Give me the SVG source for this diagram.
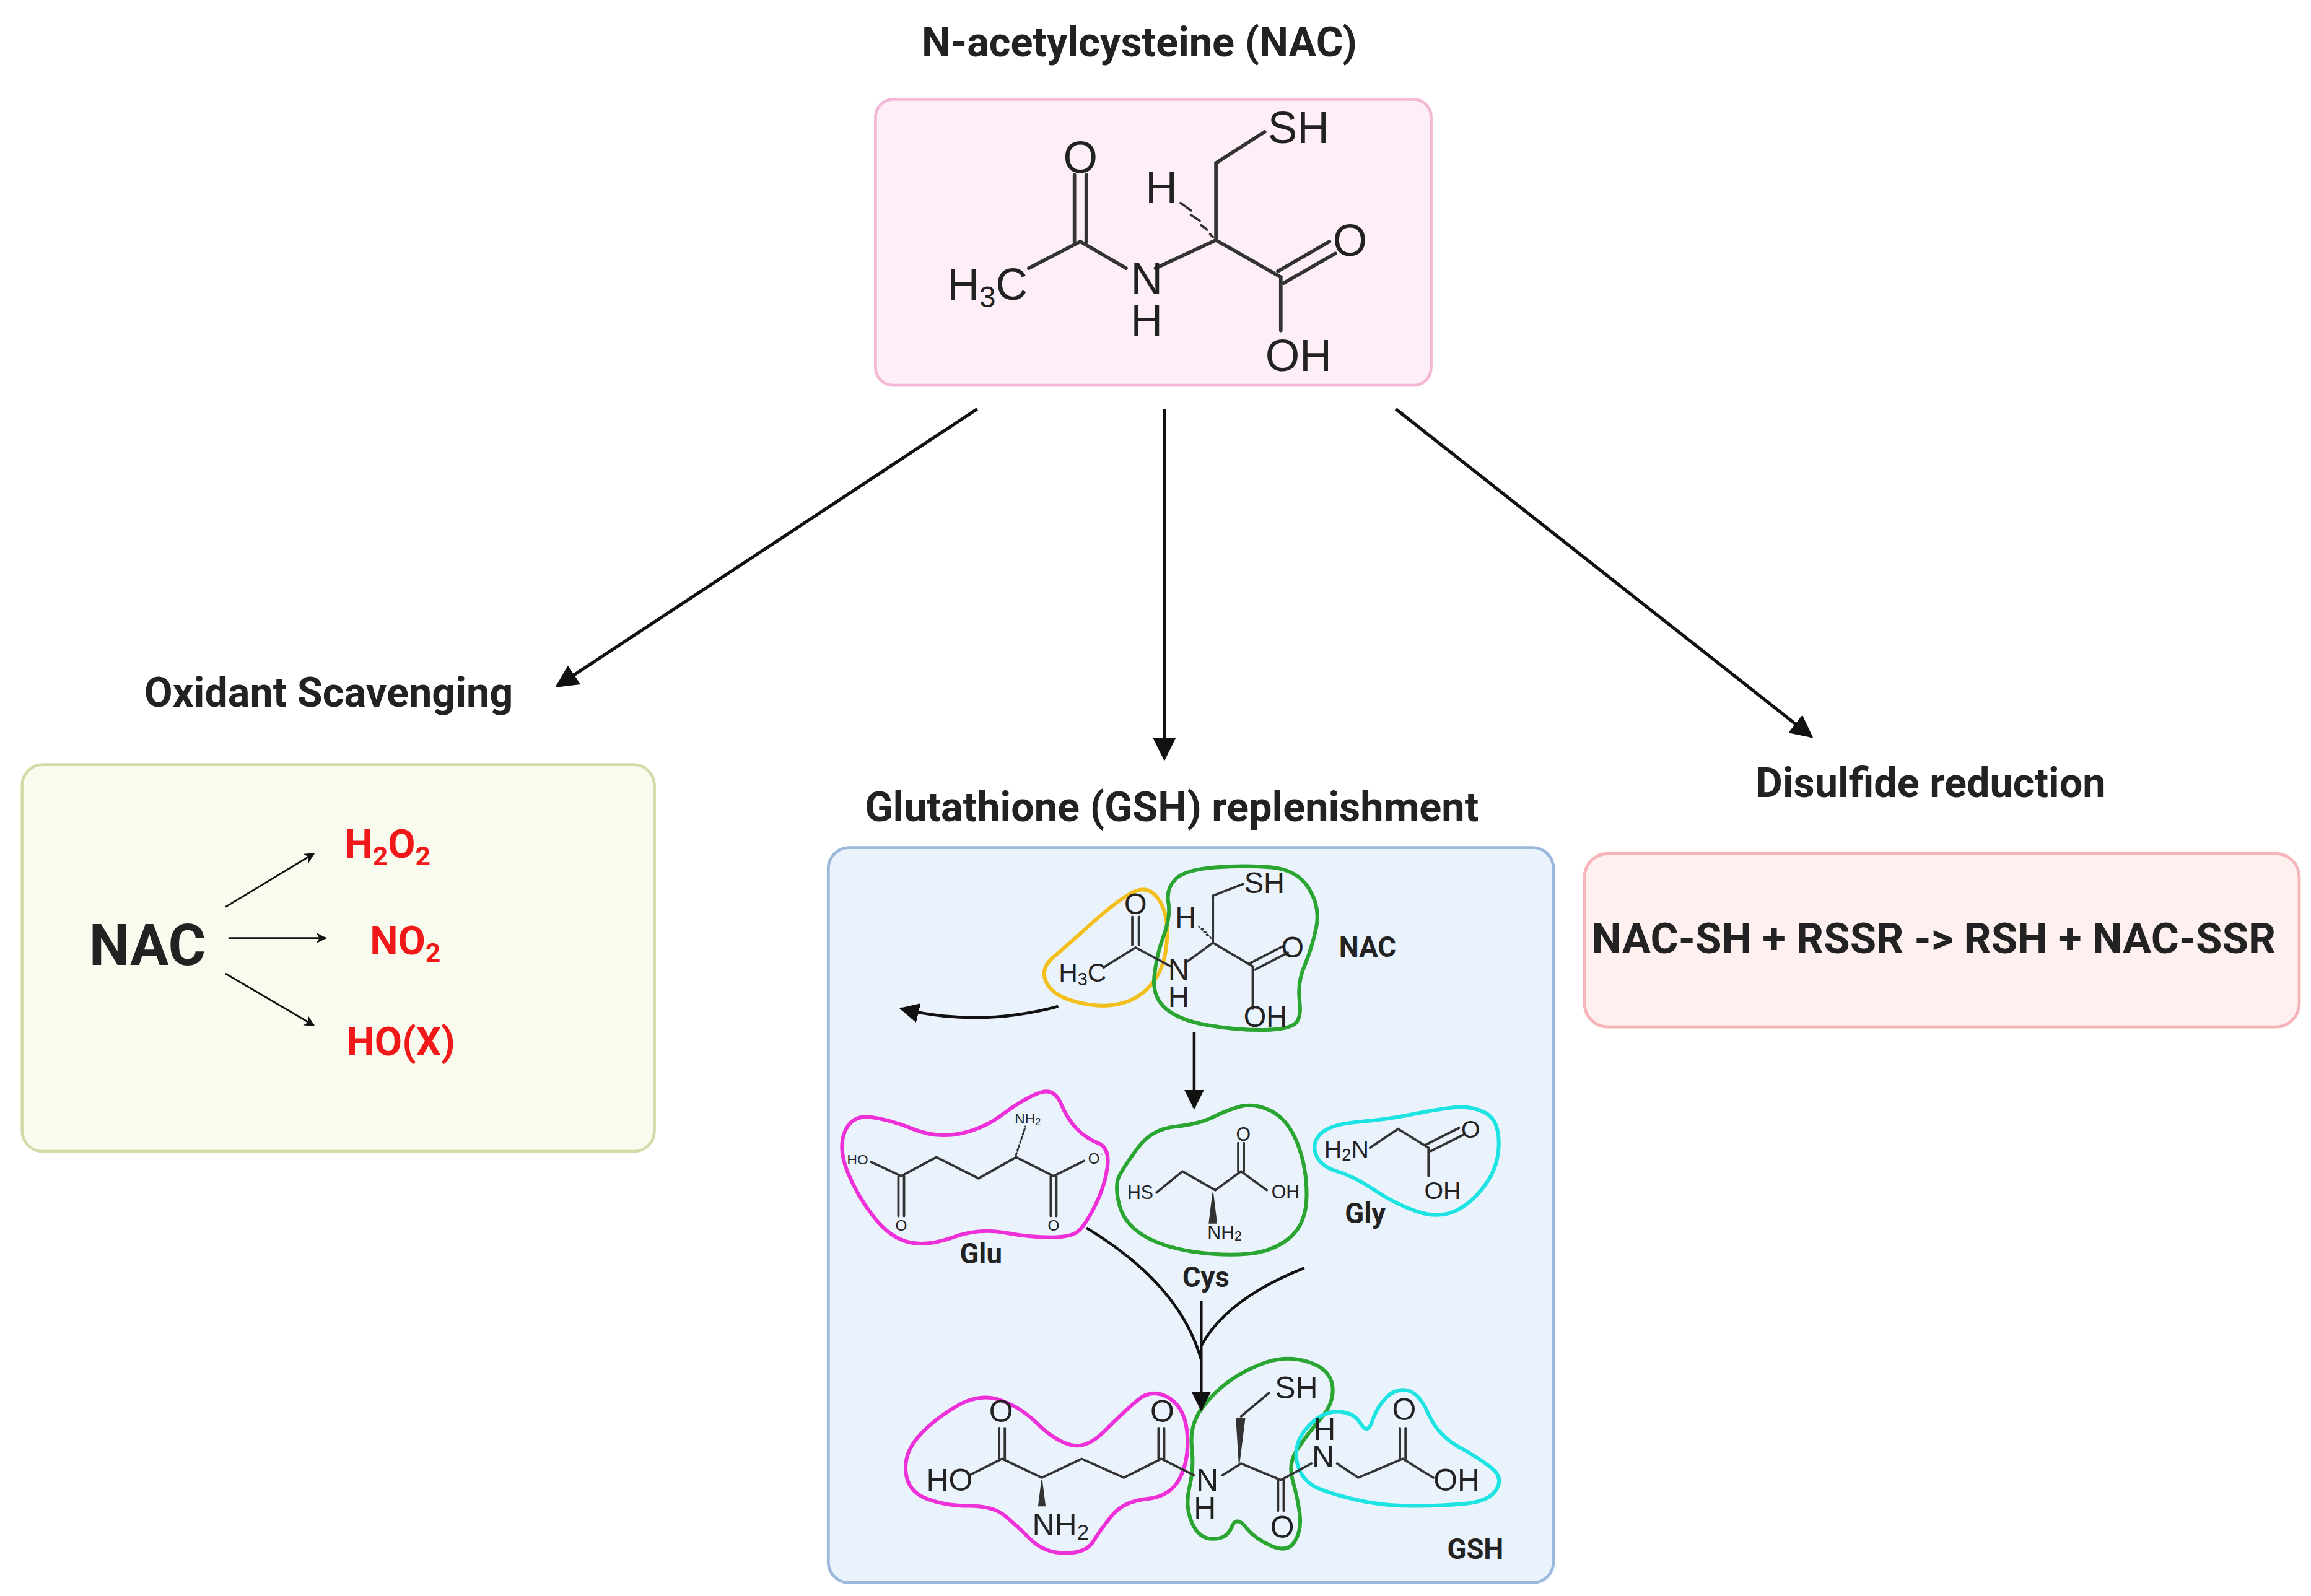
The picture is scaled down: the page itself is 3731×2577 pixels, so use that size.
<svg xmlns="http://www.w3.org/2000/svg" width="3731" height="2577" viewBox="0 0 3731 2577">
<defs>
<style>
.t{font-family:Roboto,"Liberation Sans",sans-serif;font-weight:bold;fill:#222}
.c{font-family:"Liberation Sans",Arial,sans-serif;fill:#222}
.r{font-family:Roboto,"Liberation Sans",sans-serif;font-weight:bold;fill:#f01818}
.b{stroke:#333;fill:none;stroke-linecap:round}
.a{stroke:#111;fill:none}
.lp{fill:none;stroke-width:8}
</style>
<marker id="ah" viewBox="0 0 10 10" refX="9" refY="5" markerWidth="7" markerHeight="7" orient="auto" markerUnits="strokeWidth"><path d="M0,0 L10,5 L0,10 z" fill="#111"/></marker>
<marker id="ah2" viewBox="0 0 10 10" refX="9" refY="5" markerWidth="6" markerHeight="6" orient="auto" markerUnits="strokeWidth"><path d="M0,0 L10,5 L0,10 L3,5 z" fill="#111"/></marker>
</defs>
<rect width="3731" height="2577" fill="#fff"/>
<g transform="scale(2.3795 2.3928)">
<g id="nac-top">
<text class="t" x="773" y="38" font-size="28" text-anchor="middle">N-acetylcysteine (NAC)</text>
<rect x="594" y="67" width="377" height="193" rx="12" fill="#fdeef8" stroke="#f4b8d6" stroke-width="2"/>
<g class="b" stroke-width="2.4">
<path d="M698,181 L733,163 L764,181"/>
<path d="M729,163 L729,118 M737,163 L737,118"/>
<path d="M784,181 L825,162 L825,110 L858,89"/>
<path d="M825,162 L869,187 L869,223"/>
<path d="M867,183 L902,163 M871,191 L906,171"/>
<path d="M823,160 L821,158 M819,155 L815,152 M814,149 L808,145 M808,142 L801,137" stroke-width="1.6"/>
</g>
<g class="c" font-size="30" dominant-baseline="central" text-anchor="middle">
<text x="733" y="106">O</text>
<text x="670" y="192">H<tspan font-size="20" dy="8">3</tspan><tspan dy="-8">C</tspan></text>
<text x="778" y="188">N</text>
<text x="778" y="216">H</text>
<text x="788" y="126">H</text>
<text x="881" y="86">SH</text>
<text x="916" y="162">O</text>
<text x="881" y="240">OH</text>
</g>
</g>
<g id="connectors">
<path class="a" stroke-width="2.2" marker-end="url(#ah)" d="M663,276 L378,463"/>
<path class="a" stroke-width="2.2" marker-end="url(#ah)" d="M790,276 L790,512"/>
<path class="a" stroke-width="2.2" marker-end="url(#ah)" d="M947,276 L1229,497"/>
</g>
<g id="oxidant">
<text class="t" x="223" y="477" font-size="28" text-anchor="middle">Oxidant Scavenging</text>
<rect x="15" y="516" width="429" height="261" rx="14" fill="#f8fbee" stroke="#d3dca8" stroke-width="2"/>
<text class="t" x="100" y="651" font-size="39" text-anchor="middle" fill="#111">NAC</text>
<g class="a" stroke-width="1.2" stroke="#444">
<path marker-end="url(#ah2)" d="M153,612 L213,576"/>
<path marker-end="url(#ah2)" d="M155,633 L221,633"/>
<path marker-end="url(#ah2)" d="M153,657 L213,692"/>
</g>
<text class="r" x="263" y="579" font-size="27" text-anchor="middle">H<tspan font-size="18" dy="5">2</tspan><tspan dy="-5">O</tspan><tspan font-size="18" dy="5">2</tspan></text>
<text class="r" x="275" y="644" font-size="27" text-anchor="middle">NO<tspan font-size="18" dy="5">2</tspan></text>
<text class="r" x="272" y="712" font-size="27" text-anchor="middle">HO(X)</text>
</g>
<g id="gsh">
<text class="t" x="795" y="554" font-size="28" text-anchor="middle">Glutathione (GSH) replenishment</text>
<rect x="562" y="572" width="492" height="496" rx="14" fill="#eaf3fc" stroke="#9cb8dc" stroke-width="2"/>
<g transform="translate(559 571) scale(0.318)">
<path class="lp" stroke="#f2bf1c" d="M490,235 Q520,210 570,165 Q620,120 655,100 Q690,80 712,110 Q735,140 732,195 Q730,250 705,285 Q680,320 640,332 Q600,345 545,332 Q490,320 475,290 Q460,260 490,235Z"/>
<path class="lp" stroke="#2aa532" d="M735,120 Q730,90 750,70 Q770,50 835,45 Q900,40 955,45 Q1010,50 1035,90 Q1060,130 1050,175 Q1040,220 1025,255 Q1010,290 1015,330 Q1020,370 1000,380 Q980,390 930,390 Q880,390 820,380 Q760,370 730,345 Q700,320 705,275 Q710,230 725,190 Q740,150 735,120Z"/>
<path class="lp" stroke="#2aa532" d="M630,700 Q640,680 670,640 Q700,600 750,595 Q800,590 830,575 Q860,560 890,552 Q920,545 955,562 Q990,580 1010,630 Q1030,680 1030,740 Q1030,800 995,830 Q960,860 905,865 Q850,870 785,860 Q720,850 680,825 Q640,800 630,760 Q620,720 630,700Z"/>
<path class="lp" stroke="#1de3e3" d="M1060,610 Q1080,590 1140,585 Q1200,580 1250,570 Q1300,560 1340,555 Q1380,550 1410,565 Q1440,580 1440,630 Q1440,680 1410,720 Q1380,760 1345,775 Q1310,790 1265,775 Q1220,760 1175,730 Q1130,700 1095,690 Q1060,680 1050,655 Q1040,630 1060,610Z"/>
<path class="lp" stroke="#ee30d8" d="M45,605 Q60,570 100,575 Q140,580 190,600 Q240,620 290,610 Q340,600 380,570 Q420,540 455,525 Q490,510 505,545 Q520,580 540,600 Q560,620 585,630 Q610,640 605,680 Q600,720 580,760 Q560,800 545,815 Q530,830 485,830 Q440,830 385,820 Q330,810 275,830 Q220,850 180,840 Q140,830 105,785 Q70,740 50,690 Q30,640 45,605Z"/>
<path class="lp" stroke="#ee30d8" d="M200,1255 Q230,1220 280,1190 Q330,1160 375,1175 Q420,1190 455,1225 Q490,1260 525,1270 Q560,1280 600,1240 Q640,1200 670,1175 Q700,1150 735,1170 Q770,1190 775,1245 Q780,1300 760,1340 Q740,1380 690,1385 Q640,1390 615,1420 Q590,1450 575,1475 Q560,1500 515,1500 Q470,1500 440,1470 Q410,1440 385,1420 Q360,1400 310,1400 Q260,1400 220,1385 Q180,1370 175,1330 Q170,1290 200,1255Z"/>
<path class="lp" stroke="#2aa532" d="M785,1275 Q780,1230 805,1195 Q830,1160 865,1135 Q900,1110 945,1095 Q990,1080 1035,1095 Q1080,1110 1085,1145 Q1090,1180 1060,1215 Q1030,1250 1010,1280 Q990,1310 1000,1345 Q1010,1380 1015,1415 Q1020,1450 1005,1475 Q990,1500 955,1485 Q920,1470 900,1445 Q880,1420 870,1445 Q860,1470 830,1470 Q800,1470 785,1435 Q770,1400 780,1360 Q790,1320 785,1275Z"/>
<path class="lp" stroke="#1de3e3" d="M1010,1310 Q1000,1270 1030,1235 Q1060,1200 1095,1200 Q1130,1200 1145,1225 Q1160,1250 1170,1220 Q1180,1190 1200,1170 Q1220,1150 1245,1155 Q1270,1160 1290,1205 Q1310,1250 1355,1275 Q1400,1300 1425,1320 Q1450,1340 1435,1365 Q1420,1390 1370,1395 Q1320,1400 1260,1400 Q1200,1400 1150,1390 Q1100,1380 1060,1365 Q1020,1350 1010,1310Z"/>
<g class="b" stroke-width="5">
<path d="M600,255 L665,215 L740,255 M658,210 L658,150 M672,210 L672,150"/>
<path d="M775,245 L830,205 L830,105 L895,80 M830,205 L915,255 L915,345 M910,248 L980,212 M920,262 L990,226"/>
<path d="M710,735 L765,690 L835,730 L890,690 L945,730 M884,690 L884,630 M896,690 L896,630"/>
<path d="M1165,640 L1225,600 L1290,640 L1290,700 M1285,633 L1355,598 M1295,647 L1365,612"/>
<path d="M100,670 L165,700 L240,660 L330,705 L410,660 L490,700 L555,668 M159,700 L159,785 M171,700 L171,785 M484,700 L484,785 M496,700 L496,785"/>
<path d="M310,1335 L380,1300 L465,1340 L550,1300 L640,1340 L720,1300 L790,1335 M374,1300 L374,1235 M386,1300 L386,1235 M714,1300 L714,1235 M726,1300 L726,1235"/>
<path d="M850,1335 L890,1310 L975,1345 L1040,1310 M969,1345 L969,1410 M981,1345 L981,1410 M1095,1310 L1140,1340 L1235,1300 L1300,1340 M1229,1300 L1229,1235 M1241,1300 L1241,1235 M890,1210 L950,1160"/>
</g>
<path d="M886,1310 L880,1215 L898,1215 Z M830,735 L822,800 L838,800 Z M465,1345 L458,1400 L472,1400 Z" fill="#333" stroke="#333" stroke-width="2"/>
<path d="M826,195 L808,175 M818,190 L800,170" class="b" stroke-width="3" stroke-dasharray="3 5"/>
<path d="M410,655 L430,595" class="b" stroke-width="4" stroke-dasharray="4 5"/>
<g class="c" font-size="62" dominant-baseline="central" text-anchor="middle">
<text x="665" y="122">O</text>
<text x="552" y="268" font-size="56">H<tspan font-size="38" dy="14">3</tspan><tspan dy="-14">C</tspan></text>
<text x="757" y="262">N</text>
<text x="757" y="320">H</text>
<text x="772" y="152">H</text>
<text x="940" y="78">SH</text>
<text x="1000" y="215">O</text>
<text x="942" y="362">OH</text>
</g>
<g class="c" font-size="40" dominant-baseline="central" text-anchor="middle" fill="#444">
<text x="675" y="735">HS</text>
<text x="895" y="612">O</text>
<text x="985" y="733">OH</text>
<text x="855" y="820">NH<tspan font-size="28" dy="8">2</tspan></text>
<text x="72" y="665" font-size="30">HO</text>
<text x="165" y="805" font-size="32">O</text>
<text x="490" y="805" font-size="32">O</text>
<text x="580" y="663" font-size="32">O<tspan font-size="22" dy="-12">-</tspan></text>
<text x="435" y="578" font-size="30">NH<tspan font-size="22" dy="6">2</tspan></text>
</g>
<g class="c" font-size="52" dominant-baseline="central" text-anchor="middle">
<text x="1115" y="642">H<tspan font-size="36" dy="12">2</tspan><tspan dy="-12">N</tspan></text>
<text x="1380" y="600">O</text>
<text x="1320" y="730">OH</text>
</g>
<g class="c" font-size="66" dominant-baseline="central" text-anchor="middle">
<text x="378" y="1200">O</text>
<text x="268" y="1345">HO</text>
<text x="505" y="1440">NH<tspan font-size="46" dy="14">2</tspan></text>
<text x="722" y="1200">O</text>
<text x="818" y="1345">N</text>
<text x="813" y="1405">H</text>
<text x="1008" y="1150">SH</text>
<text x="978" y="1445">O</text>
<text x="1065" y="1295">N</text>
<text x="1068" y="1238">H</text>
<text x="1238" y="1195">O</text>
<text x="1350" y="1345">OH</text>
</g>
<g class="t" font-size="60" text-anchor="middle" fill="#333">
<text x="1160" y="235">NAC</text>
<text x="335" y="885">Glu</text>
<text x="815" y="935">Cys</text>
<text x="1155" y="800">Gly</text>
<text x="1390" y="1512">GSH</text>
</g>
<g class="a" stroke-width="6">
<path marker-end="url(#ah)" d="M500,340 Q330,385 165,345"/>
<path marker-end="url(#ah)" d="M790,395 L790,555"/>
<path d="M560,810 Q760,930 805,1090"/>
<path d="M1025,895 Q860,960 805,1060"/>
<path marker-end="url(#ah)" d="M805,965 L805,1195"/>
</g>
</g>
</g>
<g id="disulfide">
<text class="t" x="1310" y="538" font-size="28" text-anchor="middle">Disulfide reduction</text>
<rect x="1075" y="576" width="485" height="117" rx="16" fill="#fff0f0" stroke="#f6b4b8" stroke-width="2"/>
<text class="t" x="1312" y="643" font-size="29" text-anchor="middle" fill="#111">NAC-SH + RSSR -&gt; RSH + NAC-SSR</text>
</g>
</g>
</svg>
